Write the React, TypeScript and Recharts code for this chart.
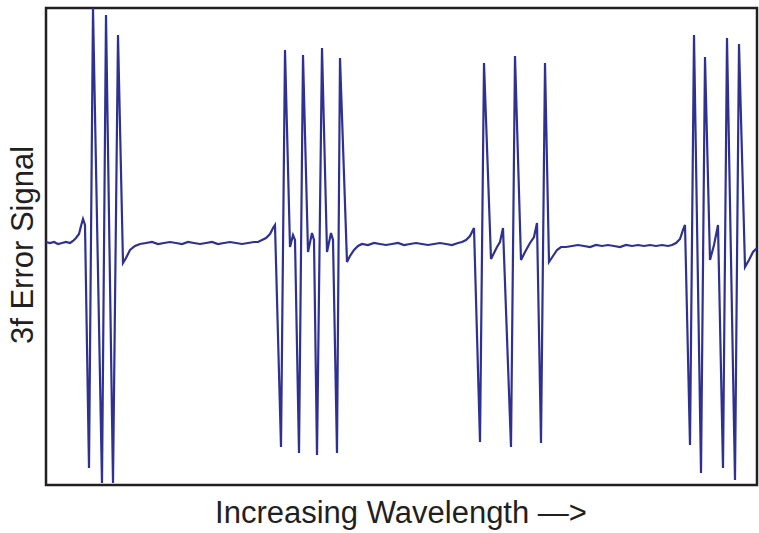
import { LineChart, Line, XAxis, YAxis, ReferenceArea } from 'recharts';

// wavelength index (arbitrary units) and 3f error signal (arbitrary units)
const wavelength = [
  0, 4, 8, 12, 16, 20, 24, 27, 30, 33, 35, 37, 39, 43, 47, 56, 60, 67, 72, 77,
  80, 84, 89, 94, 100, 106, 112, 118, 124, 130, 136, 142, 148, 154, 160, 166, 172, 178, 184, 190,
  196, 202, 208, 212, 216, 220, 224, 227, 229, 235, 239, 244, 247, 249, 253, 257, 262, 266, 268, 271,
  276, 281, 285, 287, 291, 294, 301, 304, 308, 312, 316, 322, 328, 334, 340, 346, 352, 358, 364, 370,
  376, 382, 388, 394, 400, 406, 412, 416, 420, 424, 428, 434, 438, 445, 448, 451, 454, 457, 465, 469,
  475, 479, 484, 488, 491, 495, 499, 503, 507, 511, 515, 520, 526, 532, 538, 544, 550, 556, 562, 568,
  574, 580, 586, 592, 598, 604, 610, 616, 622, 626, 630, 634, 637, 639, 644, 648, 655, 659, 664, 668,
  672, 677, 681, 689, 693, 699, 703, 707, 711,
];

const signal = [
  0, -1, 0, -2, -1, 0, -1, 1, 4, 8, 16, 23, 17, -226, 234, -241, 227, -241, 207, -21,
  -16, -8, -4, -2, -1, 0, -2, -1, 0, -1, -2, 0, -1, -2, -1, 0, -2, -1, 0, -1,
  -2, -1, 0, 0, 2, 4, 8, 14, 17, -205, 192, -5, 7, 2, -211, 187, -10, 9, 2, -213,
  194, -10, 9, 2, -211, 184, -20, -14, -8, -4, -2, -3, -1, -2, -3, -2, -1, -3, -2, -1,
  -2, -3, -2, -1, -2, -3, -1, 0, 2, 6, 14, -200, 179, -17, -11, -5, 0, 14, -205, 186,
  -18, -10, -1, 5, 19, -201, 179, -20, -14, -8, -5, -5, -4, -3, -4, -5, -3, -4, -3, -4,
  -5, -3, -4, -3, -4, -3, -4, -3, -4, -3, -1, 3, 12, 17, -203, 207, -231, 185, -18, -3,
  17, -226, 204, -238, 198, -25, -18, -10, -6,
];

const X_DOMAIN = [0, 711];
const Y_DOMAIN = [-243, 234];

const data = wavelength.map((w, i) => ({ w, v: signal[i] }));

const FONT = '"Liberation Sans", Arial, Helvetica, sans-serif';

export default function App() {
  return (
    <div style={{ position: 'absolute', left: 0, top: 0 }}>
      <LineChart
        width={759}
        height={533}
        data={data}
        margin={{ top: 8, right: 2, bottom: 48, left: 46 }}
      >
        <XAxis dataKey="w" type="number" domain={X_DOMAIN} hide />
        <YAxis type="number" domain={Y_DOMAIN} hide allowDataOverflow />
        <ReferenceArea
          x1={X_DOMAIN[0]}
          x2={X_DOMAIN[1]}
          y1={Y_DOMAIN[0]}
          y2={Y_DOMAIN[1]}
          fill="none"
          stroke="#231f20"
          strokeWidth={2.5}
          fillOpacity={0}
          ifOverflow="visible"
        />
        <Line
          type="linear"
          dataKey="v"
          stroke="#2e3192"
          strokeWidth={2.2}
          dot={false}
          isAnimationActive={false}
        />
        <text
          x={401}
          y={523}
          textAnchor="middle"
          fontFamily={FONT}
          fontSize={31}
          fill="#231f20"
        >
          Increasing Wavelength —&gt;
        </text>
        <text
          x={33}
          y={245}
          textAnchor="middle"
          transform="rotate(-90 33 245)"
          fontFamily={FONT}
          fontSize={31}
          fill="#231f20"
        >
          3f Error Signal
        </text>
      </LineChart>
    </div>
  );
}
